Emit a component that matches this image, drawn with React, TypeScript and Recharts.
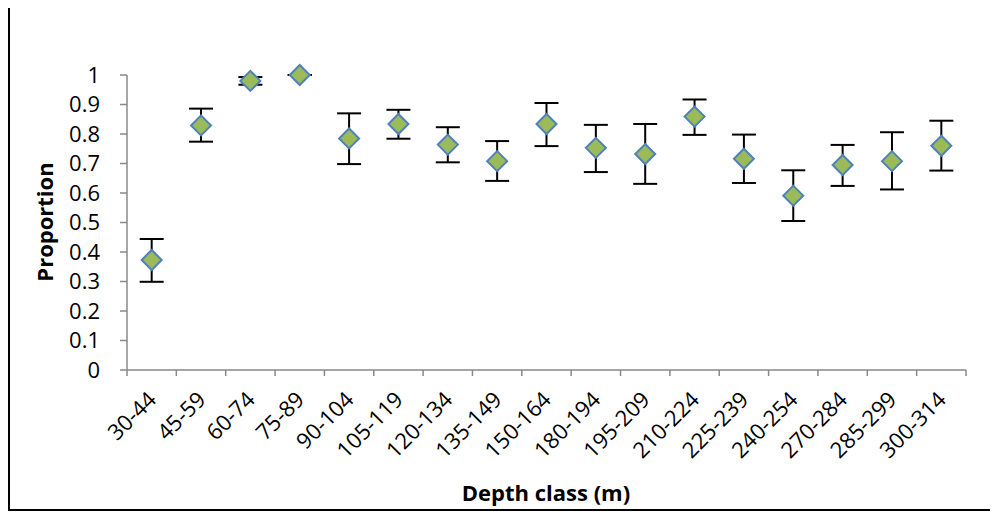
import React from 'react';
import { ComposedChart, Scatter, XAxis, YAxis, ErrorBar, Label } from 'recharts';

const categories = ['30-44', '45-59', '60-74', '75-89', '90-104', '105-119', '120-134', '135-149', '150-164', '180-194', '195-209', '210-224', '225-239', '240-254', '270-284', '285-299', '300-314'];
const proportion = [0.373, 0.829, 0.98, 1.0, 0.785, 0.834, 0.764, 0.708, 0.834, 0.753, 0.732, 0.859, 0.716, 0.591, 0.695, 0.708, 0.76];
const upperBound = [0.444, 0.886, 0.993, 1.0, 0.87, 0.882, 0.823, 0.776, 0.905, 0.831, 0.834, 0.917, 0.798, 0.677, 0.763, 0.806, 0.845];
const lowerBound = [0.299, 0.774, 0.967, 1.0, 0.698, 0.784, 0.704, 0.641, 0.759, 0.671, 0.631, 0.797, 0.634, 0.505, 0.624, 0.612, 0.676];
const yTicks = [0, 0.1, 0.2, 0.3, 0.4, 0.5, 0.6, 0.7, 0.8, 0.9, 1];

const data = categories.map((c, i) => ({
  name: c,
  value: proportion[i],
  err: [Math.max(0, proportion[i] - lowerBound[i]), Math.max(0, upperBound[i] - proportion[i])],
}));

const W = 998;
const H = 512;
const M = { top: 75, right: 32, left: 0, bottom: 0 };
const Y_W = 127;
const X_H = 142;
const PLOT_W = W - M.left - M.right - Y_W;
const HALF_BAND = PLOT_W / categories.length / 2;
const AXIS_COLOR = '#898989';
const FONT = "'Open Sans', sans-serif";

const Diamond = (props: any) => {
  const { cx, cy } = props;
  if (cx == null || cy == null) return null;
  const r = 10;
  return (
    <polygon
      points={`${cx},${cy - r} ${cx + r},${cy} ${cx},${cy + r} ${cx - r},${cy}`}
      fill="#9BBB59"
      stroke="#4F81BD"
      strokeWidth={2}
    />
  );
};

const NoShape = () => <g />;

const XTick = (props: any) => {
  const { x, y, payload, index } = props;
  const last = index === categories.length - 1;
  return (
    <g>
      <line x1={x - HALF_BAND} x2={x - HALF_BAND} y1={y} y2={y + 6} stroke={AXIS_COLOR} strokeWidth={1.5} />
      {last && <line x1={x + HALF_BAND} x2={x + HALF_BAND} y1={y} y2={y + 6} stroke={AXIS_COLOR} strokeWidth={1.5} />}
      <g transform={`translate(${x + 6},${y + 31})`}>
        <text x={0} y={0} textAnchor="end" transform="rotate(-45)" fontSize={22} fontFamily={FONT} fill="#000">
          {payload.value}
        </text>
      </g>
    </g>
  );
};

export default function App() {
  return (
    <div style={{ position: 'relative', width: W, height: H, margin: '-8px 0 0 -8px', background: '#fff', overflow: 'hidden', fontFamily: FONT }}>
      <div style={{ position: 'absolute', left: 8, top: 5, width: 1000, height: 502, border: '2px solid #000' }} />
      <div style={{ position: 'absolute', left: 0, top: 0 }}>
        <ComposedChart width={W} height={H} data={data} margin={M}>
          <XAxis
            dataKey="name"
            type="category"
            scale="point"
            padding={{ left: HALF_BAND, right: HALF_BAND }}
            height={X_H}
            interval={0}
            tickLine={false}
            tickSize={0}
            tickMargin={0}
            axisLine={{ stroke: AXIS_COLOR, strokeWidth: 1.5 }}
            tick={<XTick />}
          >
            <Label
              content={() => (
                <text x={546} y={501} textAnchor="middle" fontSize={22} fontWeight="bold" fontFamily={FONT} fill="#000">
                  Depth class (m)
                </text>
              )}
            />
          </XAxis>
          <YAxis
            type="number"
            domain={[0, 1]}
            ticks={yTicks}
            width={Y_W}
            interval={0}
            tickSize={7}
            tickMargin={20}
            axisLine={{ stroke: AXIS_COLOR, strokeWidth: 1.5 }}
            tickLine={{ stroke: AXIS_COLOR, strokeWidth: 1.5 }}
            tick={{ fontSize: 22, fill: '#000', fontFamily: FONT }}
            tickFormatter={(v: number) => String(Math.round(v * 10) / 10)}
          >
            <Label
              content={() => (
                <text x={53} y={222} textAnchor="middle" fontSize={22} fontWeight="bold" fontFamily={FONT} fill="#000" transform="rotate(-90, 53, 222)">
                  Proportion
                </text>
              )}
            />
          </YAxis>
          <Scatter dataKey="value" shape={<NoShape />} isAnimationActive={false}>
            <ErrorBar dataKey="err" direction="y" width={12} stroke="#000" strokeWidth={2} isAnimationActive={false} />
          </Scatter>
          <Scatter dataKey="value" shape={<Diamond />} isAnimationActive={false} />
        </ComposedChart>
      </div>
    </div>
  );
}
